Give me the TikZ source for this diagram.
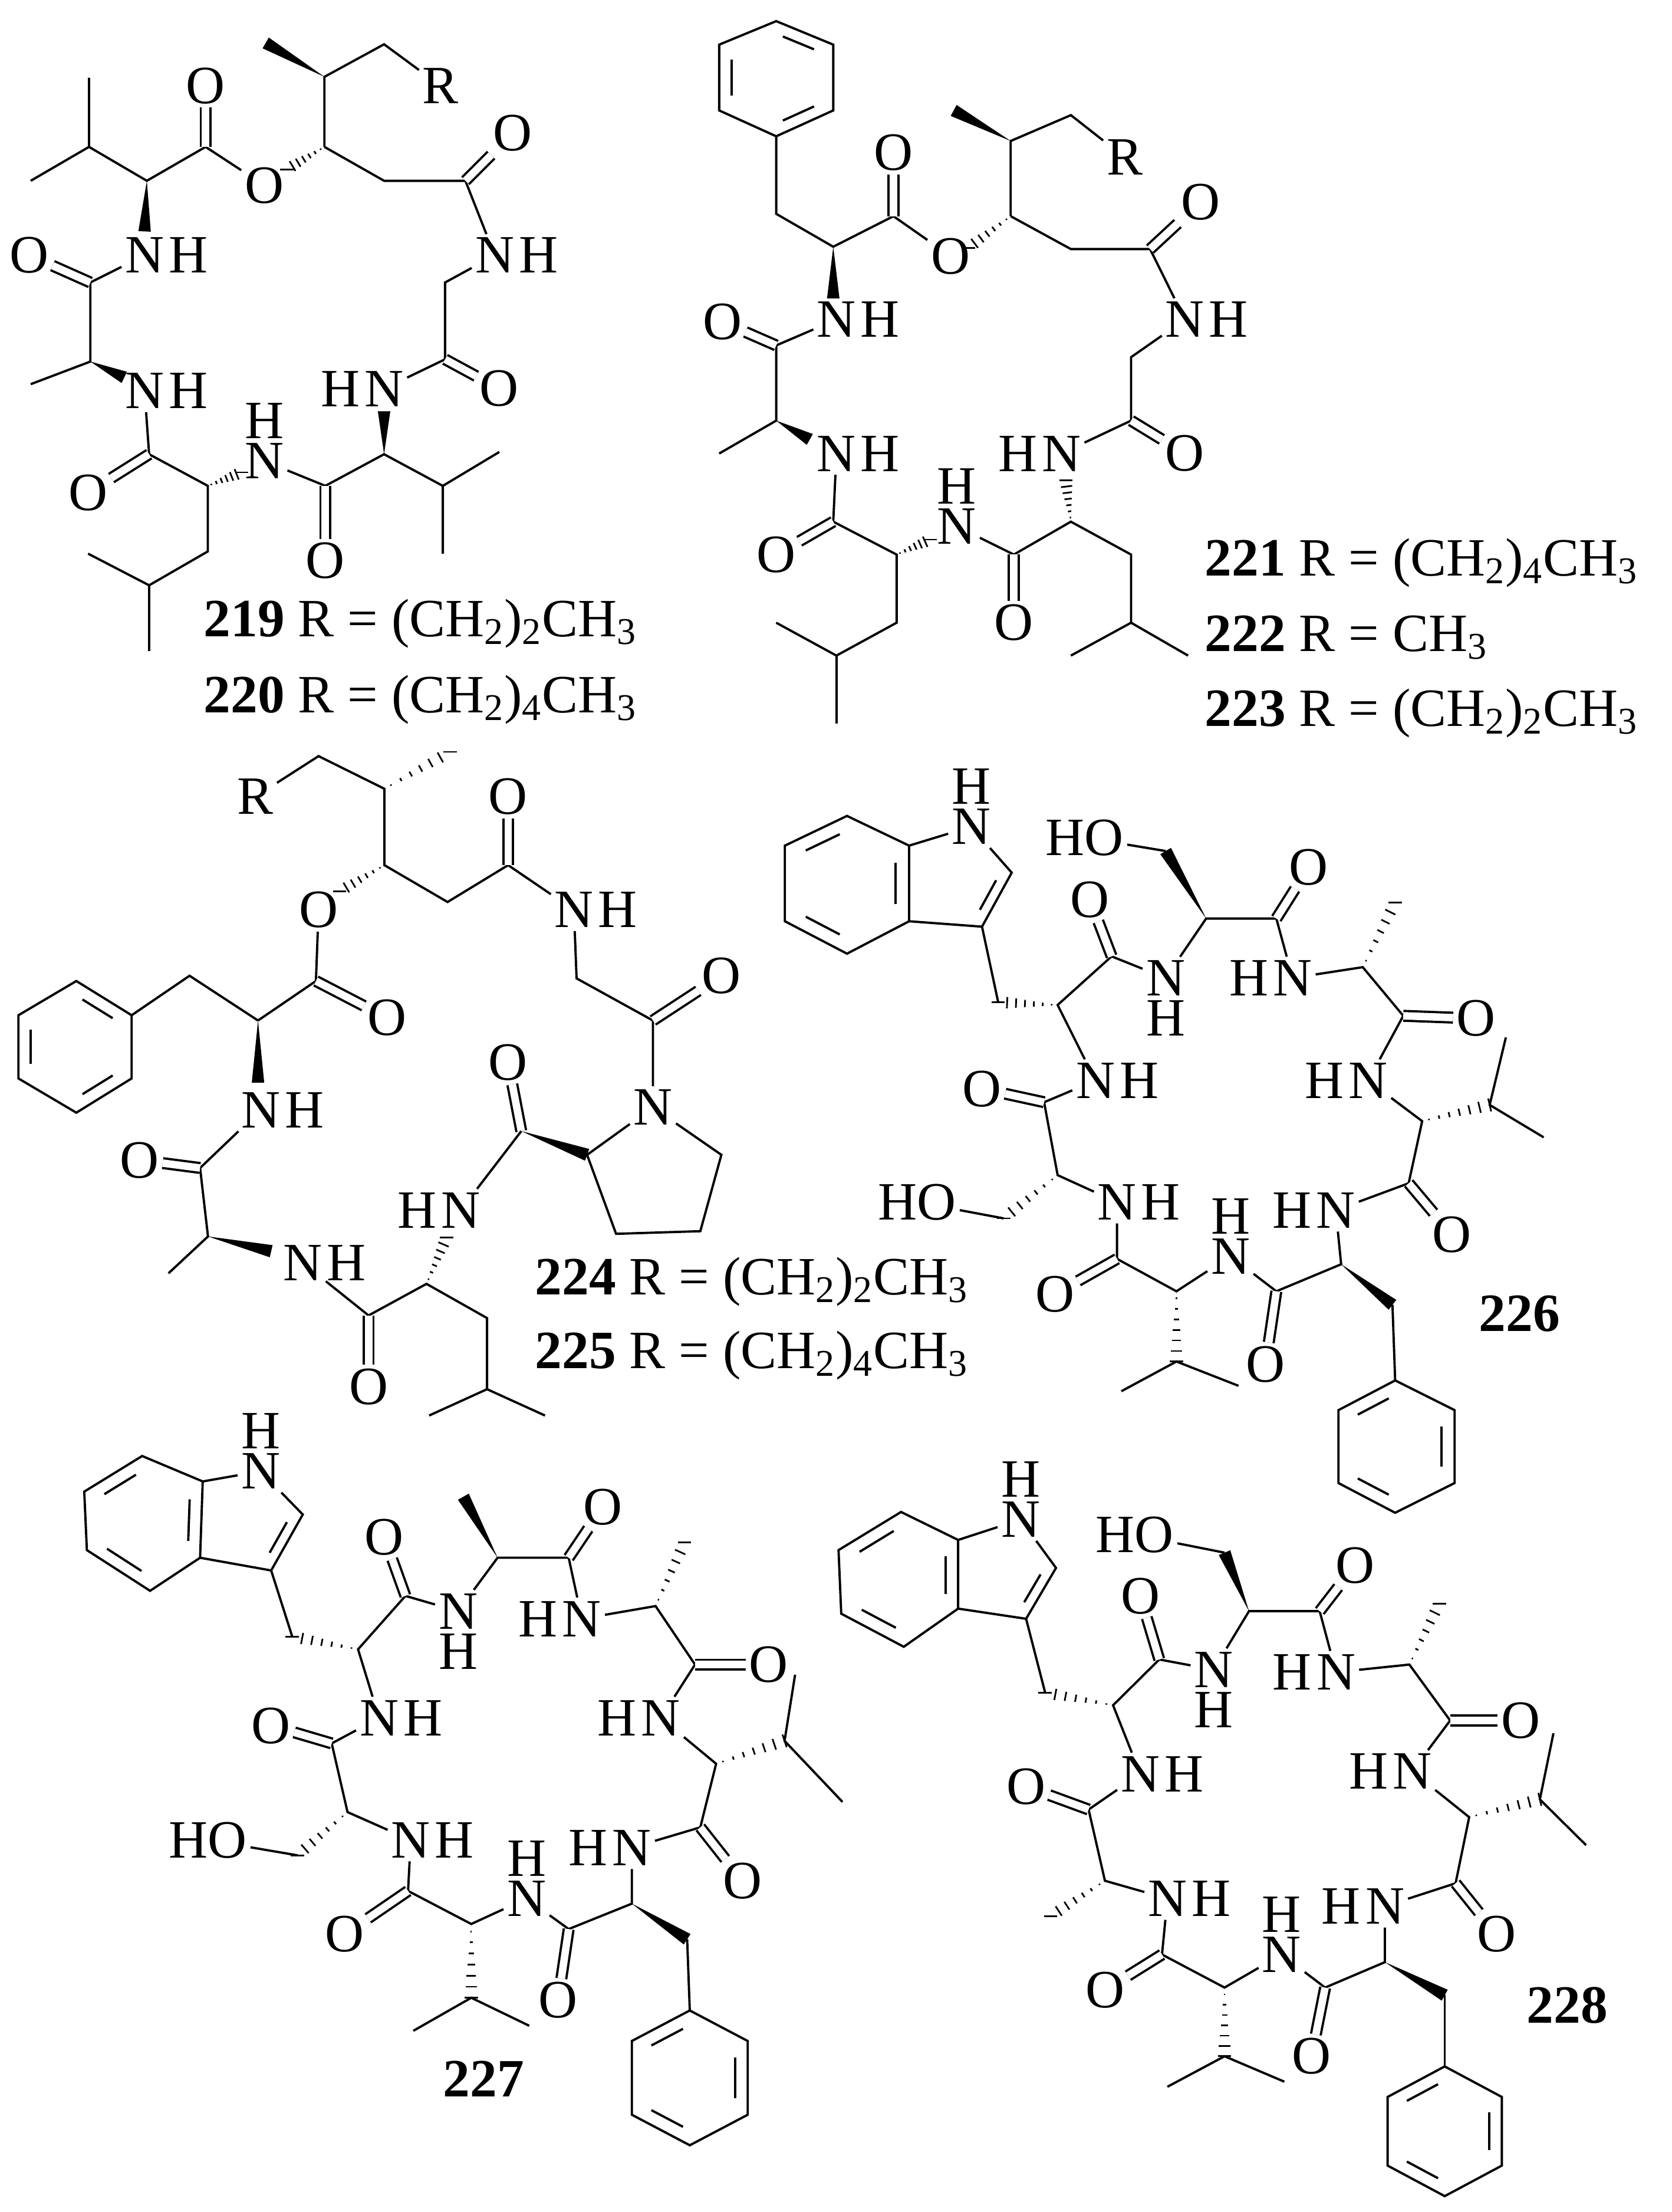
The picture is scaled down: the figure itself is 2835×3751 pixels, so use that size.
\documentclass[tikz,border=0pt]{standalone}
\usepackage{fontspec}
\setmainfont{Liberation Serif}
\usetikzlibrary{calc}
\tikzset{
  atm/.style={inner sep=1.2pt,font=\fontsize{26}{30}\selectfont},
  hl/.style={inner sep=0pt,font=\fontsize{26}{30}\selectfont},
  nh/.style={label={[hl]right:H}},
  hn/.style={label={[hl]left:H}},
  hu/.style={label={[hl]above:H}},
  hd/.style={label={[hl]below:H}},
  dbl/.style={double,double distance=3.6pt},
  cpd/.style={anchor=base west,inner sep=0pt,font=\fontsize{26}{30}\selectfont}
}
\newcommand{\wdg}[2]{\fill (#1) -- ($(#2)!3pt!90:(#1)$) -- ($(#2)!3pt!-90:(#1)$) -- cycle;}
\newcommand{\hsh}[2]{\foreach \t in {0.1,0.25,...,1.0}{\draw[line width=0.8pt] ($(#1)!\t!(#2)!{\t*3.2pt}!90:(#2)$) -- ($(#1)!\t!(#2)!{\t*3.2pt}!-90:(#2)$);}}
\newcommand{\dbin}[3]{\draw ($(#1)!.15!(#2)!.22!(#3)$) -- ($(#1)!.85!(#2)!.22!(#3)$);}
\begin{document}
\begin{tikzpicture}[x=0.01cm,y=-0.01cm,line width=1.1pt]
\useasboundingbox (0,0) rectangle (2835,3751);
% 219 / 220
\begin{scope}[shift={(0,0)},x=0.007653cm,y=-0.007653cm]
  \coordinate (A1) at (197,172);
  \coordinate (A2) at (197,325);
  \coordinate (A3) at (68,400);
  \coordinate (A4) at (325,400);
  \coordinate (A4w) at (320,512);
  \node[atm,nh] (AN1) at (320,565) {N};
  \coordinate (A5) at (455,325);
  \node[atm] (AO1) at (455,190) {O};
  \node[atm] (AO2) at (585,410) {O};
  \coordinate (A6) at (718,325);
  \coordinate (A6h) at (635,375);
  \coordinate (A7) at (718,170);
  \coordinate (A8) at (588,95);
  \coordinate (A9) at (850,98);
  \node[atm] (AR) at (975,190) {R};
  \coordinate (A10) at (850,400);
  \coordinate (A11) at (1030,400);
  \node[atm] (AO3) at (1135,295) {O};
  \node[atm,nh] (AN2) at (1095,565) {N};
  \coordinate (A12) at (985,625);
  \coordinate (A13) at (985,795);
  \node[atm] (AO4) at (1105,860) {O};
  \node[atm,hn] (AN3) at (850,860) {N};
  \coordinate (A14) at (850,1005);
  \coordinate (A14w) at (850,910);
  \coordinate (A15) at (980,1075);
  \coordinate (A16) at (1105,1000);
  \coordinate (A17) at (980,1225);
  \coordinate (A18) at (720,1075);
  \node[atm] (AO5) at (720,1240) {O};
  \node[atm,hu] (AN4) at (585,1020) {N};
  \coordinate (A19) at (460,1075);
  \coordinate (A19h) at (535,1045);
  \coordinate (A20) at (330,1005);
  \node[atm] (AO6) at (195,1090) {O};
  \node[atm,nh] (AN5) at (320,865) {N};
  \coordinate (A21) at (460,1220);
  \coordinate (A22) at (330,1295);
  \coordinate (A23) at (195,1225);
  \coordinate (A24) at (330,1440);
  \coordinate (A25) at (200,800);
  \coordinate (A25w) at (275,835);
  \coordinate (A26) at (68,850);
  \coordinate (A27) at (200,625);
  \node[atm] (AO7) at (65,565) {O};
  \draw (A1) -- (A2) -- (A3);
  \draw (A2) -- (A4) -- (A5) -- (AO2);
  \draw[dbl] (A5) -- (AO1);
  \wdg{A4}{A4w}
  \hsh{A6}{A6h}
  \wdg{A7}{A8}
  \draw (A6) -- (A7) -- (A9) -- (AR);
  \draw (A6) -- (A10) -- (A11) -- (AN2) -- (A12) -- (A13) -- (AN3);
  \draw[dbl] (A11) -- (AO3);
  \draw[dbl] (A13) -- (AO4);
  \wdg{A14}{A14w}
  \draw (A15) -- (A14) -- (A18) -- (AN4);
  \draw (A16) -- (A15) -- (A17);
  \draw[dbl] (A18) -- (AO5);
  \hsh{A19}{A19h}
  \draw (AN5) -- (A20) -- (A19) -- (A21) -- (A22) -- (A23);
  \draw (A22) -- (A24);
  \draw[dbl] (A20) -- (AO6);
  \wdg{A25}{A25w}
  \draw (A26) -- (A25) -- (A27) -- (AN1);
  \draw[dbl] (A27) -- (AO7);
\end{scope}
\node[cpd] (t219) at (344,1079) {\textbf{219} R = (CH\textsubscript{2})\textsubscript{2}CH\textsubscript{3}};
\node[cpd] (t220) at (344,1208) {\textbf{220} R = (CH\textsubscript{2})\textsubscript{4}CH\textsubscript{3}};
% 221 - 223
\begin{scope}[shift={(1150,0)},x=0.010746cm,y=-0.00797cm]
  \coordinate (B1) at (155,45);
  \coordinate (B2) at (245,95);
  \coordinate (B3) at (245,235);
  \coordinate (B4) at (155,290);
  \coordinate (B5) at (65,235);
  \coordinate (B6) at (65,95);
  \coordinate (Bc) at (155,167);
  \coordinate (B7) at (155,455);
  \coordinate (B8) at (245,525);
  \coordinate (B8w) at (245,635);
  \node[atm,nh] (BN1) at (250,680) {N};
  \coordinate (B9) at (340,460);
  \node[atm] (BO1) at (340,325) {O};
  \node[atm] (BO2) at (430,545) {O};
  \coordinate (B10) at (525,460);
  \coordinate (B10h) at (458,528);
  \coordinate (B11) at (525,300);
  \coordinate (B12) at (435,235);
  \coordinate (B13) at (620,245);
  \node[atm] (BR) at (705,335) {R};
  \coordinate (B14) at (620,530);
  \coordinate (B15) at (745,530);
  \node[atm] (BO3) at (825,430) {O};
  \node[atm,nh] (BN2) at (800,680) {N};
  \coordinate (B16) at (715,760);
  \coordinate (B17) at (715,895);
  \node[atm] (BO4) at (800,965) {O};
  \node[atm,hn] (BN3) at (605,965) {N};
  \coordinate (B18) at (620,1110);
  \coordinate (B18h) at (612,1022);
  \coordinate (B19) at (530,1180);
  \node[atm] (BO5) at (530,1325) {O};
  \node[atm,hu] (BN4) at (440,1120) {N};
  \coordinate (B20) at (715,1180);
  \coordinate (B21) at (715,1325);
  \coordinate (B22) at (620,1395);
  \coordinate (B23) at (805,1395);
  \coordinate (B24) at (345,1180);
  \coordinate (B24h) at (398,1148);
  \coordinate (B25) at (245,1110);
  \node[atm] (BO6) at (155,1180) {O};
  \node[atm,nh] (BN5) at (250,965) {N};
  \coordinate (B26) at (345,1325);
  \coordinate (B27) at (250,1395);
  \coordinate (B28) at (155,1325);
  \coordinate (B29) at (250,1540);
  \coordinate (B30) at (155,895);
  \coordinate (B30w) at (208,935);
  \coordinate (B31) at (65,965);
  \coordinate (B32) at (155,735);
  \node[atm] (BO7) at (70,685) {O};
  \draw (B1) -- (B2) -- (B3) -- (B4) -- (B5) -- (B6) -- cycle;
  \dbin{B1}{B2}{Bc} \dbin{B3}{B4}{Bc} \dbin{B5}{B6}{Bc}
  \draw (B4) -- (B7) -- (B8) -- (B9) -- (BO2);
  \wdg{B8}{B8w}
  \draw[dbl] (B9) -- (BO1);
  \hsh{B10}{B10h}
  \wdg{B11}{B12}
  \draw (B10) -- (B11) -- (B13) -- (BR);
  \draw (B10) -- (B14) -- (B15) -- (BN2) -- (B16) -- (B17) -- (BN3);
  \draw[dbl] (B15) -- (BO3);
  \draw[dbl] (B17) -- (BO4);
  \hsh{B18}{B18h}
  \draw (BN4) -- (B19) -- (B18) -- (B20) -- (B21) -- (B22);
  \draw (B21) -- (B23);
  \draw[dbl] (B19) -- (BO5);
  \hsh{B24}{B24h}
  \draw (BN5) -- (B25) -- (B24) -- (B26) -- (B27) -- (B28);
  \draw (B27) -- (B29);
  \draw[dbl] (B25) -- (BO6);
  \wdg{B30}{B30w}
  \draw (B31) -- (B30) -- (B32) -- (BN1);
  \draw[dbl] (B32) -- (BO7);
\end{scope}
\node[cpd] (t221) at (2042,976) {\textbf{221} R = (CH\textsubscript{2})\textsubscript{4}CH\textsubscript{3}};
\node[cpd] (t222) at (2042,1104) {\textbf{222} R = CH\textsubscript{3}};
\node[cpd] (t223) at (2042,1231) {\textbf{223} R = (CH\textsubscript{2})\textsubscript{2}CH\textsubscript{3}};
% 224 / 225
\begin{scope}[shift={(0,1150)},x=0.008929cm,y=-0.008929cm]
  \node[atm] (CR) at (485,225) {R};
  \coordinate (C1) at (605,148);
  \coordinate (C2) at (730,210);
  \coordinate (C2h) at (855,140);
  \coordinate (C3) at (730,355);
  \coordinate (C3h) at (645,405);
  \node[atm] (CO1) at (605,440) {O};
  \coordinate (C4) at (850,425);
  \coordinate (C5) at (965,355);
  \node[atm] (CO2) at (965,225) {O};
  \node[atm,nh] (CN1) at (1090,440) {N};
  \coordinate (C6) at (1095,570);
  \coordinate (C7) at (1240,650);
  \node[atm] (CO3) at (1370,565) {O};
  \node[atm] (CN2) at (1240,815) {N};
  \coordinate (C8) at (1370,905);
  \coordinate (C9) at (1330,1050);
  \coordinate (C10) at (1170,1055);
  \coordinate (C11) at (1115,905);
  \coordinate (C12) at (990,860);
  \node[atm] (CO4) at (965,730) {O};
  \node[atm,hn] (CN3) at (875,1010) {N};
  \coordinate (C13) at (810,1150);
  \coordinate (C13h) at (848,1062);
  \coordinate (C14) at (700,1210);
  \node[atm] (CO5) at (700,1345) {O};
  \node[atm,nh] (CN4) at (575,1110) {N};
  \coordinate (C15) at (925,1215);
  \coordinate (C16) at (925,1350);
  \coordinate (C17) at (815,1400);
  \coordinate (C18) at (1035,1400);
  \coordinate (C19) at (395,1060);
  \coordinate (C19w) at (515,1088);
  \coordinate (C20) at (320,1130);
  \coordinate (C21) at (380,930);
  \node[atm] (CO6) at (265,915) {O};
  \node[atm,nh] (CN5) at (495,820) {N};
  \coordinate (C22) at (490,650);
  \coordinate (C22w) at (490,768);
  \coordinate (C23) at (600,575);
  \node[atm] (CO7) at (735,645) {O};
  \coordinate (C24) at (360,565);
  \coordinate (C25) at (250,640);
  \coordinate (C26) at (250,760);
  \coordinate (C27) at (145,825);
  \coordinate (C28) at (35,760);
  \coordinate (C29) at (35,640);
  \coordinate (C30) at (145,575);
  \coordinate (Cc) at (142,700);
  \draw (CR) -- (C1) -- (C2) -- (C3) -- (C4) -- (C5) -- (CN1) -- (C6) -- (C7) -- (CN2);
  \hsh{C2}{C2h}
  \hsh{C3}{C3h}
  \draw[dbl] (C5) -- (CO2);
  \draw[dbl] (C7) -- (CO3);
  \draw (CN2) -- (C8) -- (C9) -- (C10) -- (C11) -- (CN2);
  \wdg{C12}{C11}
  \draw[dbl] (C12) -- (CO4);
  \draw (C12) -- (CN3);
  \hsh{C13}{C13h}
  \draw (CN4) -- (C14) -- (C13) -- (C15) -- (C16) -- (C17);
  \draw (C16) -- (C18);
  \draw[dbl] (C14) -- (CO5);
  \wdg{C19}{C19w}
  \draw (C20) -- (C19) -- (C21) -- (CN5);
  \draw[dbl] (C21) -- (CO6);
  \wdg{C22}{C22w}
  \draw (C22) -- (C23) -- (CO1);
  \draw[dbl] (C23) -- (CO7);
  \draw (C22) -- (C24) -- (C25);
  \draw (C25) -- (C26) -- (C27) -- (C28) -- (C29) -- (C30) -- cycle;
  \dbin{C30}{C25}{Cc} \dbin{C26}{C27}{Cc} \dbin{C28}{C29}{Cc}
\end{scope}
\node[cpd] (t224) at (906,2195) {\textbf{224} R = (CH\textsubscript{2})\textsubscript{2}CH\textsubscript{3}};
\node[cpd] (t225) at (906,2320) {\textbf{225} R = (CH\textsubscript{2})\textsubscript{4}CH\textsubscript{3}};
% 226
\begin{scope}[shift={(1400,1150)},x=0.009152cm,y=-0.009152cm]
  \node[atm,hu] (DN0) at (270,275) {N};
  \coordinate (D1) at (345,360);
  \coordinate (D2) at (290,460);
  \coordinate (D3) at (155,450);
  \coordinate (D4) at (155,310);
  \coordinate (D5) at (40,255);
  \coordinate (D6) at (-75,310);
  \coordinate (D7) at (-75,450);
  \coordinate (D8) at (40,510);
  \coordinate (Dp) at (243,371);
  \coordinate (Db) at (40,380);
  \coordinate (D9) at (320,600);
  \coordinate (D10) at (430,605);
  \coordinate (D11) at (530,515);
  \node[atm] (DO1) at (490,410) {O};
  \node[atm,hd] (DN1) at (630,555) {N};
  \coordinate (D12) at (705,445);
  \coordinate (D13) at (630,320);
  \node[atm] (DHO1) at (480,295) {HO};
  \coordinate (D14) at (835,445);
  \node[atm] (DO2) at (895,350) {O};
  \node[atm,hn] (DN2) at (865,555) {N};
  \coordinate (D15) at (995,535);
  \coordinate (D16) at (1055,415);
  \coordinate (D17) at (1070,625);
  \node[atm] (DO3) at (1205,630) {O};
  \node[atm,hn] (DN3) at (1005,745) {N};
  \coordinate (D18) at (1105,820);
  \coordinate (D19) at (1230,790);
  \coordinate (D20) at (1260,665);
  \coordinate (D21) at (1330,850);
  \coordinate (D22) at (1080,935);
  \node[atm] (DO4) at (1160,1030) {O};
  \node[atm,hn] (DN4) at (945,985) {N};
  \coordinate (D23) at (955,1085);
  \coordinate (D24) at (1050,1160);
  \coordinate (D25) at (1055,1300);
  \coordinate (D26) at (1165,1355);
  \coordinate (D27) at (1165,1490);
  \coordinate (D28) at (1055,1545);
  \coordinate (D29) at (950,1490);
  \coordinate (D30) at (950,1355);
  \coordinate (Dc) at (1057,1422);
  \coordinate (D31) at (835,1135);
  \node[atm] (DO5) at (815,1270) {O};
  \node[atm,hu] (DN5) at (750,1070) {N};
  \coordinate (D32) at (650,1135);
  \coordinate (D33) at (650,1265);
  \coordinate (D34) at (548,1320);
  \coordinate (D35) at (765,1310);
  \coordinate (D36) at (540,1075);
  \node[atm] (DO6) at (425,1140) {O};
  \node[atm,nh] (DN6) at (540,970) {N};
  \coordinate (D37) at (430,920);
  \coordinate (D38) at (330,1000);
  \node[atm] (DHO2) at (170,970) {HO};
  \coordinate (D39) at (405,785);
  \node[atm] (DO7) at (290,760) {O};
  \node[atm,nh] (DN7) at (500,745) {N};
  \draw (DN0) -- (D1) -- (D2) -- (D3) -- (D4) -- (DN0);
  \draw (D4) -- (D5) -- (D6) -- (D7) -- (D8) -- (D3);
  \dbin{D1}{D2}{Dp} \dbin{D3}{D4}{Db} \dbin{D5}{D6}{Db} \dbin{D7}{D8}{Db}
  \draw (D2) -- (D9);
  \hsh{D10}{D9}
  \draw (DN7) -- (D10) -- (D11) -- (DN1) -- (D12) -- (D14) -- (DN2) -- (D15) -- (D17) -- (DN3) -- (D18) -- (D22) -- (DN4) -- (D23) -- (D31) -- (DN5) -- (D32) -- (D36) -- (DN6) -- (D37) -- (D39) -- (DN7);
  \draw[dbl] (D11) -- (DO1);
  \wdg{D12}{D13}
  \draw (D13) -- (DHO1);
  \draw[dbl] (D14) -- (DO2);
  \hsh{D15}{D16}
  \draw[dbl] (D17) -- (DO3);
  \hsh{D18}{D19}
  \draw (D20) -- (D19) -- (D21);
  \draw[dbl] (D22) -- (DO4);
  \wdg{D23}{D24}
  \draw (D24) -- (D25);
  \draw (D25) -- (D26) -- (D27) -- (D28) -- (D29) -- (D30) -- cycle;
  \dbin{D26}{D27}{Dc} \dbin{D28}{D29}{Dc} \dbin{D30}{D25}{Dc}
  \draw[dbl] (D31) -- (DO5);
  \hsh{D32}{D33}
  \draw (D34) -- (D33) -- (D35);
  \draw[dbl] (D36) -- (DO6);
  \hsh{D37}{D38}
  \draw (D38) -- (DHO2);
  \draw[dbl] (D39) -- (DO7);
\end{scope}
\node[cpd] (t226) at (2507,2257) {\textbf{226}};
% 227
\begin{scope}[shift={(0,2400)},x=0.008929cm,y=-0.008616cm]
  \node[atm,hu] (EN0) at (495,110) {N};
  \coordinate (E1) at (575,195);
  \coordinate (E2) at (515,305);
  \coordinate (E3) at (380,280);
  \coordinate (E4) at (385,130);
  \coordinate (E5) at (270,80);
  \coordinate (E6) at (160,150);
  \coordinate (E7) at (165,265);
  \coordinate (E8) at (285,345);
  \coordinate (Ep) at (470,205);
  \coordinate (Eb) at (275,210);
  \coordinate (E9) at (555,435);
  \coordinate (E10) at (680,460);
  \coordinate (E11) at (770,355);
  \node[atm] (EO1) at (730,240) {O};
  \node[atm,hd] (EN1) at (870,385) {N};
  \coordinate (E12) at (945,280);
  \coordinate (E13) at (880,160);
  \coordinate (E14) at (1080,280);
  \node[atm] (EO2) at (1145,180) {O};
  \node[atm,hn] (EN2) at (1105,400) {N};
  \coordinate (E15) at (1245,375);
  \coordinate (E16) at (1300,250);
  \coordinate (E17) at (1320,490);
  \node[atm] (EO3) at (1460,490) {O};
  \node[atm,hn] (EN3) at (1255,595) {N};
  \coordinate (E18) at (1360,685);
  \coordinate (E19) at (1490,640);
  \coordinate (E20) at (1510,510);
  \coordinate (E21) at (1600,760);
  \coordinate (E22) at (1330,810);
  \node[atm] (EO4) at (1410,915) {O};
  \node[atm,hn] (EN4) at (1200,850) {N};
  \coordinate (E23) at (1200,960);
  \coordinate (E24) at (1305,1030);
  \coordinate (E25) at (1310,1170);
  \coordinate (E26) at (1420,1230);
  \coordinate (E27) at (1420,1375);
  \coordinate (E28) at (1310,1435);
  \coordinate (E29) at (1200,1375);
  \coordinate (E30) at (1200,1230);
  \coordinate (Ec) at (1310,1302);
  \coordinate (E31) at (1080,1010);
  \node[atm] (EO5) at (1060,1150) {O};
  \node[atm,hu] (EN5) at (1000,950) {N};
  \coordinate (E32) at (895,1000);
  \coordinate (E33) at (895,1145);
  \coordinate (E34) at (785,1210);
  \coordinate (E35) at (1005,1200);
  \coordinate (E36) at (775,935);
  \node[atm] (EO6) at (655,1020) {O};
  \node[atm,nh] (EN6) at (780,835) {N};
  \coordinate (E37) at (660,780);
  \coordinate (E38) at (565,865);
  \node[atm] (EHO) at (395,835) {HO};
  \coordinate (E39) at (630,645);
  \node[atm] (EO7) at (515,610) {O};
  \node[atm,nh] (EN7) at (720,595) {N};
  \draw (EN0) -- (E1) -- (E2) -- (E3) -- (E4) -- (EN0);
  \draw (E4) -- (E5) -- (E6) -- (E7) -- (E8) -- (E3);
  \dbin{E1}{E2}{Ep} \dbin{E3}{E4}{Eb} \dbin{E5}{E6}{Eb} \dbin{E7}{E8}{Eb}
  \draw (E2) -- (E9);
  \hsh{E10}{E9}
  \draw (EN7) -- (E10) -- (E11) -- (EN1) -- (E12) -- (E14) -- (EN2) -- (E15) -- (E17) -- (EN3) -- (E18) -- (E22) -- (EN4) -- (E23) -- (E31) -- (EN5) -- (E32) -- (E36) -- (EN6) -- (E37) -- (E39) -- (EN7);
  \draw[dbl] (E11) -- (EO1);
  \wdg{E12}{E13}
  \draw[dbl] (E14) -- (EO2);
  \hsh{E15}{E16}
  \draw[dbl] (E17) -- (EO3);
  \hsh{E18}{E19}
  \draw (E20) -- (E19) -- (E21);
  \draw[dbl] (E22) -- (EO4);
  \wdg{E23}{E24}
  \draw (E24) -- (E25);
  \draw (E25) -- (E26) -- (E27) -- (E28) -- (E29) -- (E30) -- cycle;
  \dbin{E26}{E27}{Ec} \dbin{E28}{E29}{Ec} \dbin{E30}{E25}{Ec}
  \draw[dbl] (E31) -- (EO5);
  \hsh{E32}{E33}
  \draw (E34) -- (E33) -- (E35);
  \draw[dbl] (E36) -- (EO6);
  \hsh{E37}{E38}
  \draw (E38) -- (EHO);
  \draw[dbl] (E39) -- (EO7);
\end{scope}
\node[cpd] (t227) at (750,3555) {\textbf{227}};
% 228
\begin{scope}[shift={(1390,2400)},x=0.009216cm,y=-0.008616cm]
  \node[atm,hu] (FN0) at (370,205) {N};
  \coordinate (F1) at (435,300);
  \coordinate (F2) at (380,400);
  \coordinate (F3) at (255,380);
  \coordinate (F4) at (255,245);
  \coordinate (F5) at (150,190);
  \coordinate (F6) at (35,265);
  \coordinate (F7) at (40,390);
  \coordinate (F8) at (155,455);
  \coordinate (Fp) at (335,305);
  \coordinate (Fb) at (150,320);
  \coordinate (F9) at (415,545);
  \coordinate (F10) at (540,570);
  \coordinate (F11) at (625,480);
  \node[atm] (FO1) at (590,355) {O};
  \node[atm,hd] (FN1) at (725,500) {N};
  \coordinate (F12) at (790,385);
  \coordinate (F13) at (745,270);
  \node[atm] (FHO) at (580,235) {HO};
  \coordinate (F14) at (920,385);
  \node[atm] (FO2) at (985,295) {O};
  \node[atm,hn] (FN2) at (950,505) {N};
  \coordinate (F15) at (1085,490);
  \coordinate (F16) at (1140,370);
  \coordinate (F17) at (1160,600);
  \node[atm] (FO3) at (1290,600) {O};
  \node[atm,hn] (FN3) at (1090,700) {N};
  \coordinate (F18) at (1195,790);
  \coordinate (F19) at (1325,755);
  \coordinate (F20) at (1350,625);
  \coordinate (F21) at (1410,845);
  \coordinate (F22) at (1170,920);
  \node[atm] (FO4) at (1245,1020) {O};
  \node[atm,hn] (FN4) at (1040,965) {N};
  \coordinate (F23) at (1040,1075);
  \coordinate (F24) at (1150,1140);
  \coordinate (F25) at (1150,1280);
  \coordinate (F26) at (1255,1340);
  \coordinate (F27) at (1255,1475);
  \coordinate (F28) at (1150,1535);
  \coordinate (F29) at (1045,1475);
  \coordinate (F30) at (1045,1340);
  \coordinate (Fc) at (1150,1407);
  \coordinate (F31) at (930,1125);
  \node[atm] (FO5) at (905,1260) {O};
  \node[atm,hu] (FN5) at (850,1060) {N};
  \coordinate (F32) at (745,1125);
  \coordinate (F33) at (745,1260);
  \coordinate (F34) at (640,1320);
  \coordinate (F35) at (855,1310);
  \coordinate (F36) at (630,1060);
  \node[atm] (FO6) at (525,1130) {O};
  \node[atm,nh] (FN6) at (640,950) {N};
  \coordinate (F37) at (525,915);
  \coordinate (F38) at (425,985);
  \coordinate (F39) at (495,775);
  \node[atm] (FO7) at (380,730) {O};
  \node[atm,nh] (FN7) at (590,705) {N};
  \draw (FN0) -- (F1) -- (F2) -- (F3) -- (F4) -- (FN0);
  \draw (F4) -- (F5) -- (F6) -- (F7) -- (F8) -- (F3);
  \dbin{F1}{F2}{Fp} \dbin{F3}{F4}{Fb} \dbin{F5}{F6}{Fb} \dbin{F7}{F8}{Fb}
  \draw (F2) -- (F9);
  \hsh{F10}{F9}
  \draw (FN7) -- (F10) -- (F11) -- (FN1) -- (F12) -- (F14) -- (FN2) -- (F15) -- (F17) -- (FN3) -- (F18) -- (F22) -- (FN4) -- (F23) -- (F31) -- (FN5) -- (F32) -- (F36) -- (FN6) -- (F37) -- (F39) -- (FN7);
  \draw[dbl] (F11) -- (FO1);
  \wdg{F12}{F13}
  \draw (F13) -- (FHO);
  \draw[dbl] (F14) -- (FO2);
  \hsh{F15}{F16}
  \draw[dbl] (F17) -- (FO3);
  \hsh{F18}{F19}
  \draw (F20) -- (F19) -- (F21);
  \draw[dbl] (F22) -- (FO4);
  \wdg{F23}{F24}
  \draw (F24) -- (F25);
  \draw (F25) -- (F26) -- (F27) -- (F28) -- (F29) -- (F30) -- cycle;
  \dbin{F26}{F27}{Fc} \dbin{F28}{F29}{Fc} \dbin{F30}{F25}{Fc}
  \draw[dbl] (F31) -- (FO5);
  \hsh{F32}{F33}
  \draw (F34) -- (F33) -- (F35);
  \draw[dbl] (F36) -- (FO6);
  \hsh{F37}{F38}
  \draw[dbl] (F39) -- (FO7);
\end{scope}
\node[cpd] (t228) at (2588,3430) {\textbf{228}};
\end{tikzpicture}
\end{document}
